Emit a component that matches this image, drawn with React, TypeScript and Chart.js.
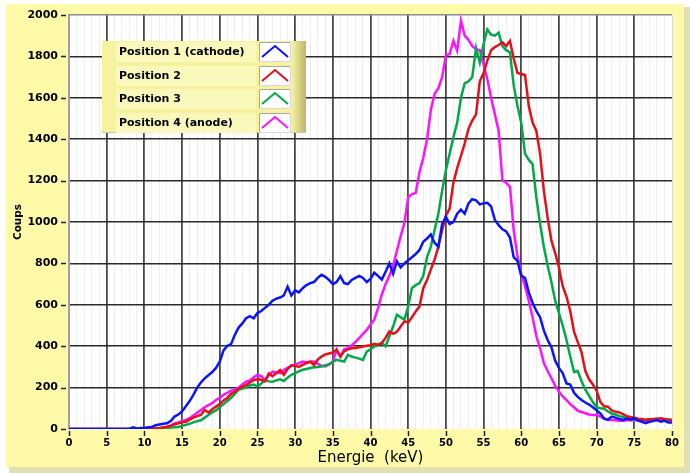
import { useEffect, useRef } from 'react';
import { Chart, registerables } from 'chart.js';

Chart.register(...registerables);

// Energy axis: 0 .. 80 keV sampled every 0.5 keV
const ENERGY_START = 0;
const ENERGY_STEP = 0.5;

const X_MIN = 0;
const X_MAX = 80;
const Y_MIN = 0;
const Y_MAX = 2000;
const X_MAJOR = 5;
const Y_STEP = 200;

const SERIES_LABELS = ['Position 1 (cathode)', 'Position 2', 'Position 3', 'Position 4 (anode)'];
const SERIES_COLORS = ['#0a14ff', '#e4101a', '#00aa48', '#ff12ff'];

const POS1 = [
  0, 0, 0, 0, 0, 0, 0, 0, 0, 0,
  0, 0, 0, 0, 0, 0, 0, 8, 3, 5,
  5, 8, 10, 18, 22, 25, 28, 38, 60, 70,
  85, 110, 135, 165, 200, 225, 245, 260, 275, 295,
  325, 380, 402, 410, 455, 490, 510, 535, 545, 535,
  560, 570, 585, 600, 620, 630, 635, 645, 688, 645,
  670, 660, 680, 695, 705, 710, 730, 745, 735, 720,
  700, 710, 738, 705, 700, 720, 730, 740, 730, 710,
  725, 755, 740, 722, 760, 800, 750, 810, 780, 800,
  815, 830, 845, 865, 905, 920, 940, 900, 880, 990,
  1025, 990, 1000, 1040, 1060, 1040, 1090, 1110, 1105, 1085,
  1090, 1093, 1075, 1010, 985, 965, 955, 925, 830, 812,
  740, 730, 660, 610, 570, 540, 475, 430, 395, 330,
  295, 270, 220, 215, 175, 155, 140, 128, 118, 105,
  90, 75, 50, 45, 60, 55, 48, 44, 50, 45,
  52, 40, 35, 28, 35, 38, 44, 35, 40, 32,
  32,
];

const POS2 = [
  0, 0, 0, 0, 0, 0, 0, 0, 0, 0,
  0, 0, 0, 0, 0, 0, 0, 0, 0, 0,
  0, 0, 0, 3, 5, 8, 11, 15, 22, 27,
  32, 35, 45, 55, 62, 68, 92, 80, 95, 108,
  120, 138, 150, 170, 180, 195, 205, 212, 225, 237,
  240, 238, 230, 268, 255, 270, 285, 262, 290, 308,
  305, 300, 310, 318, 325, 310, 335, 350, 360, 365,
  370, 383, 350, 375, 385, 390, 391, 395, 399, 402,
  405, 412, 407, 415, 440, 471, 460, 470, 495, 520,
  515, 540, 568, 592, 680, 720, 770, 818, 880, 960,
  1030, 1065, 1190, 1260, 1320, 1380, 1450, 1490, 1520, 1680,
  1720, 1780, 1830, 1845, 1855, 1868, 1850, 1875, 1790, 1720,
  1715, 1710, 1560, 1480, 1440, 1330, 1150, 1020, 910, 850,
  780, 690, 640, 570, 470, 420, 370, 280, 240, 215,
  185, 130, 110, 108, 90, 84, 80, 72, 62, 58,
  55, 50, 48, 44, 46, 48, 50, 52, 48, 45,
  44,
];

const POS3 = [
  0, 0, 0, 0, 0, 0, 0, 0, 0, 0,
  0, 0, 0, 0, 0, 0, 0, 0, 0, 0,
  0, 0, 0, 0, 0, 3, 5, 7, 8, 10,
  15, 20, 25, 32, 38, 42, 55, 68, 80, 90,
  105, 120, 135, 150, 170, 190, 195, 200, 210, 215,
  205, 220, 237, 230, 228, 235, 240, 232, 248, 262,
  270, 278, 286, 290, 295, 298, 300, 302, 308, 312,
  326, 334, 330, 326, 358, 350, 345, 340, 334, 374,
  385, 399, 405, 415, 399, 447, 495, 552, 540, 528,
  592, 681, 695, 705, 740, 830, 880, 960, 1040, 1150,
  1250, 1330, 1410, 1480, 1600, 1670, 1680, 1700, 1840, 1770,
  1860, 1930, 1905, 1900, 1915, 1850, 1830, 1820, 1660, 1560,
  1480, 1330, 1300, 1280, 1120, 990, 880, 790, 710, 620,
  560, 500, 430, 350, 275, 280, 230, 190, 160, 130,
  105, 100, 98, 85, 75, 70, 62, 58, 52, 48,
  46, 45, 44, 45, 48, 46, 48, 45, 44, 46,
  44,
];

const POS4 = [
  0, 0, 0, 0, 0, 0, 0, 0, 0, 0,
  0, 0, 0, 0, 0, 0, 0, 0, 0, 0,
  0, 0, 0, 0, 3, 6, 10, 18, 27, 32,
  38, 44, 52, 65, 78, 92, 105, 115, 125, 140,
  150, 165, 175, 185, 190, 200, 215, 229, 235, 250,
  261, 255, 237, 260, 277, 272, 270, 285, 295, 305,
  310, 318, 326, 322, 325, 326, 315, 305, 302, 312,
  325, 383, 350, 385, 391, 405, 420, 439, 460, 479,
  505, 528, 584, 650, 700, 740, 790, 860, 931, 996,
  1120, 1135, 1141, 1240, 1310, 1400, 1540, 1620, 1645, 1700,
  1805, 1811, 1876, 1827, 1973, 1900, 1880, 1850, 1835, 1830,
  1760, 1690, 1600, 1520, 1440, 1200, 1190, 1170, 960, 834,
  750, 690, 620, 540, 450, 390, 318, 280, 245, 210,
  180, 157, 140, 120, 105, 88, 82, 76, 70, 68,
  68, 60, 50, 44, 44, 42, 40, 40, 42, 42,
  44, 42, 40, 42, 40, 40, 42, 44, 42, 44,
  44,
];

const SERIES = [POS1, POS2, POS3, POS4];

const FONT = 'DejaVu Sans';

const backgroundPlugin = {
  id: 'frameBackground',
  beforeDraw(chart: any) {
    const { ctx, width, height, chartArea } = chart;
    ctx.save();
    ctx.fillStyle = '#ffffff';
    ctx.fillRect(0, 0, width, height);
    // shadow of the panel
    ctx.fillStyle = '#e2dfb4';
    ctx.fillRect(9, 7, width - 9, height - 7);
    // panel
    ctx.fillStyle = '#fefaa8';
    ctx.fillRect(6, 4, 678, 463);
    // plot area
    ctx.fillStyle = '#ffffff';
    ctx.fillRect(chartArea.left, chartArea.top, chartArea.right - chartArea.left, chartArea.bottom - chartArea.top);
    ctx.restore();
  },
};

const ticksAndLegendPlugin = {
  id: 'ticksAndLegend',
  afterDraw(chart: any) {
    const { ctx, chartArea } = chart;
    const xs = chart.scales.x;
    const ys = chart.scales.y;
    ctx.save();
    // tick marks
    ctx.strokeStyle = '#202020';
    ctx.lineWidth = 1.5;
    ctx.beginPath();
    for (let v = Y_MIN; v <= Y_MAX; v += Y_STEP) {
      const py = Math.round(ys.getPixelForValue(v)) + 0.5;
      ctx.moveTo(chartArea.left - 8, py);
      ctx.lineTo(chartArea.left - 3, py);
    }
    for (let v = X_MIN; v <= X_MAX; v += X_MAJOR) {
      const px = Math.round(xs.getPixelForValue(v)) + 0.5;
      ctx.moveTo(px, chartArea.bottom + 2);
      ctx.lineTo(px, chartArea.bottom + 7);
    }
    ctx.stroke();

    // legend
    const bx = 102;
    const by = 41;
    const bw = 204;
    const bh = 92;
    ctx.fillStyle = '#f6f29e';
    ctx.fillRect(bx, by, bw, bh);
    const grad = ctx.createLinearGradient(bx + bw - 14, 0, bx + bw, 0);
    grad.addColorStop(0, '#f6f29e');
    grad.addColorStop(1, '#bdb56c');
    ctx.fillStyle = grad;
    ctx.fillRect(bx + bw - 14, by, 14, bh);
    ctx.fillStyle = '#cfcaa0';
    ctx.fillRect(bx, by + bh - 1, bw, 1);

    const rowCenters = [52, 76, 99, 123];
    for (let i = 0; i < SERIES_LABELS.length; i++) {
      const cy = rowCenters[i];
      ctx.fillStyle = '#fbf8bc';
      ctx.fillRect(116, cy - 10, 140, 20);
      ctx.fillStyle = '#000000';
      ctx.font = `bold 11px "${FONT}"`;
      ctx.textAlign = 'left';
      ctx.textBaseline = 'middle';
      ctx.fillText(SERIES_LABELS[i], 119, cy);
      // icon box
      const ix = 259;
      const iy = cy - 10;
      ctx.fillStyle = '#ffffff';
      ctx.fillRect(ix, iy, 32, 20);
      ctx.strokeStyle = '#a8a8a8';
      ctx.lineWidth = 1;
      ctx.beginPath();
      ctx.moveTo(ix + 0.5, iy + 20);
      ctx.lineTo(ix + 0.5, iy + 0.5);
      ctx.lineTo(ix + 32, iy + 0.5);
      ctx.stroke();
      ctx.strokeStyle = '#d8d8d8';
      ctx.beginPath();
      ctx.moveTo(ix + 31.5, iy);
      ctx.lineTo(ix + 31.5, iy + 19.5);
      ctx.lineTo(ix, iy + 19.5);
      ctx.stroke();
      ctx.strokeStyle = SERIES_COLORS[i];
      ctx.lineWidth = 2;
      ctx.beginPath();
      ctx.moveTo(ix + 3, iy + 15);
      ctx.lineTo(ix + 16, iy + 4);
      ctx.lineTo(ix + 29, iy + 15);
      ctx.stroke();
    }
    ctx.restore();
  },
};

export default function App() {
  const canvasRef = useRef<HTMLCanvasElement | null>(null);

  useEffect(() => {
    const canvas = canvasRef.current;
    if (!canvas) return;
    const energies = POS1.map((_, i) => ENERGY_START + i * ENERGY_STEP);
    const datasets = SERIES.map((vals, s) => ({
      label: SERIES_LABELS[s],
      data: vals.map((y, i) => ({ x: energies[i], y })),
      borderColor: SERIES_COLORS[s],
      backgroundColor: SERIES_COLORS[s],
      borderWidth: 2.5,
      pointRadius: 0,
      tension: 0,
      fill: false,
    }));

    const chart = new Chart(canvas, {
      type: 'line',
      data: { datasets },
      options: {
        animation: false,
        responsive: false,
        devicePixelRatio: 1,
        layout: { padding: { left: 0, top: 15, right: 18, bottom: 0 } },
        plugins: {
          legend: { display: false },
          tooltip: { enabled: false },
        },
        scales: {
          x: {
            type: 'linear',
            min: X_MIN,
            max: X_MAX,
            afterFit: (s: any) => {
              s.height = 44;
            },
            ticks: {
              stepSize: 1,
              autoSkip: false,
              maxRotation: 0,
              includeBounds: true,
              padding: 1,
              color: '#000000',
              font: { family: FONT, weight: 'bold', size: 10 },
              callback: (v: any) => (Number(v) % X_MAJOR === 0 ? String(v) : ''),
            },
            grid: {
              drawTicks: true,
              tickLength: 7,
              tickColor: 'rgba(0,0,0,0)',
              color: (c: any) => {
                const v = c.tick ? c.tick.value : 0;
                if (v === X_MAX) return '#dcdcdc';
                return v % X_MAJOR === 0 ? '#4a4a4a' : '#efefef';
              },
              lineWidth: (c: any) => {
                const v = c.tick ? c.tick.value : 0;
                return v % X_MAJOR === 0 && v !== X_MAX ? 1.8 : 1;
              },
            },
            border: { display: false },
            title: {
              display: true,
              text: 'Energie  (keV)',
              color: '#000000',
              font: { family: FONT, size: 15 },
              padding: { top: 0, bottom: 6 },
            },
          },
          y: {
            min: Y_MIN,
            max: Y_MAX,
            afterFit: (s: any) => {
              s.width = 69;
            },
            ticks: {
              stepSize: Y_STEP,
              padding: 3,
              color: '#000000',
              font: { family: FONT, weight: 'bold', size: 11 },
              callback: (v: any) => String(v),
            },
            grid: {
              drawTicks: true,
              tickLength: 8,
              tickColor: 'rgba(0,0,0,0)',
              color: (c: any) => {
                const v = c.tick ? c.tick.value : 0;
                if (v === Y_MAX) return '#8c8c8c';
                if (v === Y_MIN) return 'rgba(0,0,0,0)';
                return '#2a2a2a';
              },
              lineWidth: 1.6,
            },
            border: { display: true, color: '#a0a0a0', width: 2 },
            title: {
              display: true,
              text: 'Coups',
              color: '#000000',
              font: { family: FONT, weight: 'bold', size: 10.5 },
              padding: { top: 12, bottom: 0 },
            },
          },
        },
      },
      plugins: [backgroundPlugin, ticksAndLegendPlugin],
    } as any);

    return () => {
      chart.destroy();
    };
  }, []);

  return (
    <div style={{ position: 'absolute', left: 0, top: 0, width: 690, height: 473 }}>
      <canvas ref={canvasRef} width={690} height={473} style={{ display: 'block' }} />
    </div>
  );
}
